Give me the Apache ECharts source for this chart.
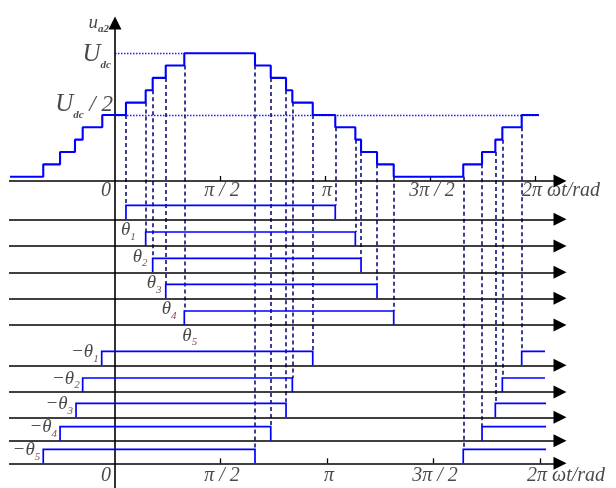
<!DOCTYPE html>
<html><head><meta charset="utf-8">
<script src="https://cdn.jsdelivr.net/npm/echarts@6/dist/echarts.min.js"></script>
<style>html,body{margin:0;padding:0;background:#fff}#c{width:616px;height:488px}</style>
</head><body><div id="c"></div>
<script>
// ---------------- data (angles in degrees) ----------------
// staircase waveform: switching angles and the level (0..10) reached after each
const waveAngles = [-90, -61.5, -47.1, -34.3, -27.7, -10.9, 9.4, 26.3, 32.3, 43.5, 59.4,
  120.0, 133.5, 146.6, 152.0, 169.5, 188.8, 206.0, 210.9, 224.6, 238.9,
  298.5, 314.6, 326.0, 332.0, 348.6, 363.4];
const waveLevels = [0, 1, 2, 3, 4, 5, 6, 7, 8, 9, 10,
  9, 8, 7, 6, 5, 4, 3, 2, 1, 0,
  1, 2, 3, 4, 5, 5];
// carrier pulses, rows theta1..theta5
const posStart = [9.4, 26.3, 32.3, 43.5, 59.4];
const posEnd = [188.8, 206.0, 210.9, 224.6, 238.9];
// carrier pulses, rows -theta1..-theta5
const negStart = [-11.4, -27.7, -33.4, -47.1, -61.5];
const negEnd = [169.5, 152.0, 146.6, 133.5, 120.0];
const negRestart = [348.6, 332.0, 326.0, 314.6, 298.5];
const negRestartEnd = [368.6, 368.6, 369.5, 369.5, 369.5];
const rowSubs = ['1', '2', '3', '4', '5'];
// axis ticks
const topTickAngles = [90, 180, 270, 360];
const bottomTickAngles = [90, 181.7, 272.6, 364.3];
const tickLabels = ['π / 2', 'π', '3π / 2', '2π'];
const zeroLabel = '0';
const unitLabel = 'ωt/rad';
const refLevels = [10, 5];   // Udc, Udc/2
const refEnds = [59.4, 363.4];

// ---------------- layout ----------------
const X0 = 115, PXDEG = 420 / 360;
const px = p => (p - X0) / PXDEG;          // pixel column -> angle (layout only)
const AXIS_Y = 181, LEVEL0_Y = 176.7, LEVEL_STEP = 12.35;
const levelY = k => LEVEL0_Y - k * LEVEL_STEP;
const ROW_Y = [219.3, 246, 272.3, 298.3, 325, 365.3, 392, 417.3, 440.7, 463.3];
const PULSE_H = 14;
const THETA_DX = [-5, -13, -6, -4, -2];   // label left edge relative to pulse start (px)
const X_LEFT = px(9), X_ARROW = px(560);
const FONT = "'Liberation Serif', 'DejaVu Serif', serif";
const TXT = '#1a1a1a';
const BLUE = '#0000ff';

function levelAt(a) {
  let lv = waveLevels[0];
  for (let i = 0; i < waveAngles.length; i++) if (waveAngles[i] <= a) lv = waveLevels[i];
  return lv;
}

// pulses
const pulses = [];
posStart.forEach((s, k) => {
  const b = ROW_Y[k], t = b - PULSE_H;
  pulses.push({ coords: [[s, b], [s, t], [posEnd[k], t], [posEnd[k], b]] });
});
negStart.forEach((s, k) => {
  const b = ROW_Y[k + 5], t = b - PULSE_H;
  pulses.push({ coords: [[s, b], [s, t], [negEnd[k], t], [negEnd[k], b]] });
  pulses.push({ coords: [[negRestart[k], b], [negRestart[k], t], [negRestartEnd[k], t]] });
});

// dashed connectors from waveform to pulse edges
const connectors = [];
function addConn(a, row) {
  const lv = Math.min(levelAt(a - 0.2), levelAt(a + 0.2));
  connectors.push({ coords: [[a, levelY(lv)], [a, ROW_Y[row] - PULSE_H]] });
}
posStart.forEach((a, k) => addConn(a, k));
posEnd.forEach((a, k) => addConn(a, k));
negEnd.forEach((a, k) => addConn(a, k + 5));
negRestart.forEach((a, k) => addConn(a, k + 5));

// axes
const axes = [AXIS_Y].concat(ROW_Y).map(y => ({ coords: [[X_LEFT, y], [X_ARROW, y]] }));
axes.push({ coords: [[0, 490], [0, 23]] });

const ticks = [];
topTickAngles.forEach(a => ticks.push({ coords: [[a, AXIS_Y], [a, AXIS_Y - 5]] }));
bottomTickAngles.forEach(a => ticks.push({ coords: [[a, ROW_Y[9]], [a, ROW_Y[9] - 5]] }));

const refs = refLevels.map((lv, i) => ({ coords: [[0, levelY(lv)], [refEnds[i], levelY(lv)]] }));

// labels
const richBase = {
  m: { fontFamily: FONT, fontStyle: 'italic', fontSize: 19, color: TXT, verticalAlign: 'bottom', padding: [0, 0, 3, 0] },
  s: { fontFamily: FONT, fontStyle: 'italic', fontSize: 11, color: '#5a1a1a', verticalAlign: 'bottom' },
  U: { fontFamily: FONT, fontStyle: 'italic', fontSize: 25, color: TXT, verticalAlign: 'bottom', padding: [0, 0, 4, 0] },
  d: { fontFamily: FONT, fontStyle: 'italic', fontWeight: 'bold', fontSize: 11, color: TXT, verticalAlign: 'bottom' },
  t: { fontFamily: FONT, fontStyle: 'italic', fontSize: 23, color: TXT, verticalAlign: 'bottom', padding: [0, 0, 4, 0] },
  u: { fontFamily: FONT, fontStyle: 'italic', fontSize: 19, color: TXT, verticalAlign: 'bottom', padding: [0, 0, 3, 0] },
  a: { fontFamily: FONT, fontStyle: 'italic', fontWeight: 'bold', fontSize: 11, color: TXT, verticalAlign: 'bottom' }
};
const labels = [];
function lab(x, y, text, opt) {
  labels.push({ value: [x, y], label: Object.assign({ show: true, formatter: text, rich: richBase }, opt) });
}
const tickFont = { fontFamily: FONT, fontStyle: 'italic', fontSize: 20, color: TXT };
// tick labels (top and bottom)
[[AXIS_Y, topTickAngles, 10], [ROW_Y[9], bottomTickAngles, 12]].forEach(([y, angs, dy]) => {
  lab(0, y + dy, zeroLabel, Object.assign({ position: 'inside', offset: [-9, 0] }, tickFont));
  angs.forEach((a, i) => {
    if (i < 3) lab(a, y + dy, tickLabels[i], Object.assign({ position: 'inside', offset: [2, 0] }, tickFont));
    else lab(a, y + dy, tickLabels[i] + ' ' + unitLabel, Object.assign({ position: 'right', distance: -13 }, tickFont));
  });
});
// theta labels
posStart.forEach((a, k) => lab(a, ROW_Y[k] + 12, '{m|θ}{s|' + rowSubs[k] + '}', { position: 'right', distance: THETA_DX[k] }));
negStart.forEach((a, k) => lab(a, ROW_Y[k + 5] - PULSE_H + 2, '{m|−θ}{s|' + rowSubs[k] + '}', { position: 'left', distance: 3 }));
// y labels
lab(0, 24, '{u|u}{a|a2}', { position: 'left', distance: 6 });
lab(0, levelY(10) + 3, '{U|U}{d|dc}', { position: 'left', distance: 4 });
lab(0, levelY(5) - 9, '{U|U}{d|dc}{t| / 2}', { position: 'left', distance: 2 });

const chart = echarts.init(document.getElementById('c'), null, { renderer: 'canvas' });
chart.setOption({
  animation: false,
  backgroundColor: '#fff',
  grid: { left: 0, right: 0, top: 0, bottom: 0 },
  xAxis: { type: 'value', min: px(0), max: px(616), show: false },
  yAxis: { type: 'value', min: 0, max: 488, inverse: true, show: false },
  series: [
    { type: 'lines', coordinateSystem: 'cartesian2d', data: refs, silent: true, z: 2,
      lineStyle: { color: '#1f1fff', width: 1.3, type: [1.5, 1.5], opacity: 1 } },
    { type: 'lines', coordinateSystem: 'cartesian2d', data: connectors, silent: true, z: 3,
      lineStyle: { color: '#10107a', width: 1.6, type: [4, 3], opacity: 1 } },
    { type: 'lines', coordinateSystem: 'cartesian2d', data: axes, silent: true, z: 4,
      symbol: ['none', 'triangle'], symbolSize: [10, 13],
      lineStyle: { color: '#000', width: 1.6, opacity: 1 } },
    { type: 'lines', coordinateSystem: 'cartesian2d', data: ticks, silent: true, z: 4,
      lineStyle: { color: '#000', width: 1.3, opacity: 1 } },
    { type: 'lines', coordinateSystem: 'cartesian2d', polyline: true, data: pulses, silent: true, z: 5,
      lineStyle: { color: BLUE, width: 1.7, opacity: 1 } },
    { type: 'line', step: 'end', symbol: 'none', silent: true, z: 6,
      data: waveAngles.map((a, i) => [a, levelY(waveLevels[i])]),
      lineStyle: { color: BLUE, width: 2.1 } },
    { type: 'scatter', symbolSize: 0, silent: true, z: 7, data: labels }
  ]
});
</script></body></html>
